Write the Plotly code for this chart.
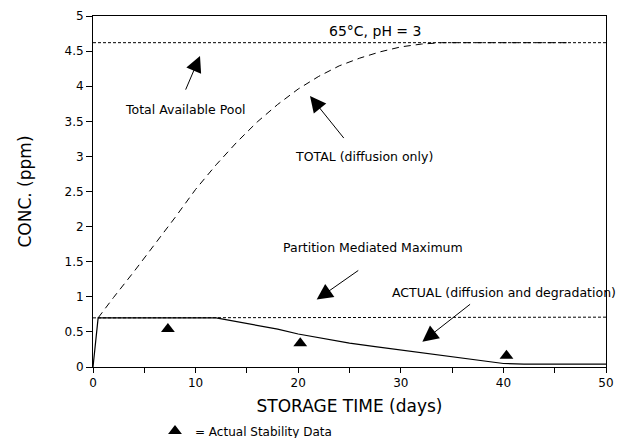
import plotly.graph_objects as go

# ---- data ----
total_days = [0.5, 1, 2, 4, 6, 8, 10, 12, 14, 16, 18, 20, 22, 24, 26, 28, 30, 32, 34, 46.5]
total_conc = [0.70, 0.80, 0.99, 1.36, 1.74, 2.13, 2.53, 2.88, 3.20, 3.49, 3.74, 3.96, 4.14, 4.29, 4.40, 4.49, 4.56, 4.60, 4.62, 4.62]

actual_days = [0, 0.5, 12, 15, 18, 20, 22.5, 25, 27.5, 30, 32.5, 35, 37, 38.5, 40, 42, 50]
actual_conc = [0, 0.70, 0.70, 0.62, 0.54, 0.47, 0.40, 0.34, 0.29, 0.24, 0.20, 0.15, 0.10, 0.07, 0.05, 0.04, 0.04]

pool_days = [0, 50]
pool_conc = [4.62, 4.62]

partition_days = [0, 50]
partition_conc = [0.70, 0.71]

stab_days = [7.3, 20.2, 40.3]
stab_conc = [0.54, 0.34, 0.16]

x_ticks = [0, 10, 20, 30, 40, 50]
y_ticks = [0, 0.5, 1, 1.5, 2, 2.5, 3, 3.5, 4, 4.5, 5]
y_labels = ["0", "0.5", "1", "1.5", "2", "2.5", "3", "3.5", "4", "4.5", "5"]

FONT = "DejaVu Sans"

fig = go.Figure()
fig.add_trace(go.Scatter(x=pool_days, y=pool_conc, mode="lines",
                         line=dict(color="black", width=1, dash="3px,2px"), showlegend=False))
fig.add_trace(go.Scatter(x=partition_days, y=partition_conc, mode="lines",
                         line=dict(color="black", width=1, dash="3px,2px"), showlegend=False))
fig.add_trace(go.Scatter(x=total_days, y=total_conc, mode="lines",
                         line=dict(color="black", width=1, dash="7px,5px"), showlegend=False))
fig.add_trace(go.Scatter(x=actual_days, y=actual_conc, mode="lines",
                         line=dict(color="black", width=1.2), showlegend=False))
fig.add_trace(go.Scatter(x=stab_days, y=stab_conc, mode="markers",
                         marker=dict(symbol="triangle-up", size=12, color="black"),
                         name="= Actual Stability Data", showlegend=True))

txt = dict(family=FONT, size=12.5, color="black")
ann = []
ann.append(dict(x=27.5, y=4.79, text="65°C, pH = 3", showarrow=False, font=dict(family=FONT, size=14, color="black")))
ann.append(dict(x=8.97, y=3.67, text="Total Available Pool", showarrow=False, font=txt))
ann.append(dict(x=19.5, y=3.0, text="TOTAL (diffusion only)", showarrow=False, xanchor="left", font=txt))
ann.append(dict(x=27.3, y=1.70, text="Partition Mediated Maximum", showarrow=False, font=txt))
ann.append(dict(x=28.9, y=1.06, text="ACTUAL (diffusion and degradation)", showarrow=False, xanchor="left", font=txt))

arrows = [((8.97, 3.93), (10.43, 4.43)),
          ((24.56, 3.24), (21.15, 3.86)),
          ((26.0, 1.39), (21.8, 0.96)),
          ((36.9, 0.91), (32.1, 0.36))]
for (tx, ty), (hx, hy) in arrows:
    ann.append(dict(x=hx, y=hy, ax=tx, ay=ty, axref="x", ayref="y", xref="x", yref="y",
                    text="", showarrow=True, arrowhead=2, arrowsize=3.2, arrowwidth=1,
                    arrowcolor="black", standoff=0, startstandoff=0))

fig.update_layout(
    width=620, height=438,
    margin=dict(l=93, r=14, t=16, b=71, autoexpand=False),
    paper_bgcolor="white", plot_bgcolor="white",
    font=dict(family=FONT, size=12, color="black"),
    annotations=ann,
    legend=dict(xref="container", yref="container", x=0.25, y=0.016,
                xanchor="left", yanchor="middle", orientation="h",
                font=dict(family=FONT, size=12, color="black"), bgcolor="rgba(0,0,0,0)"),
    xaxis=dict(range=[0, 50], tickvals=x_ticks, ticktext=[str(v) for v in x_ticks],
               ticks="outside", ticklen=5, tickcolor="black", showline=True, linecolor="black",
               linewidth=1, mirror=True, showgrid=False, zeroline=False, automargin=False,
               minor=dict(dtick=5, ticks="outside", ticklen=5, tickcolor="black"),
               title=dict(text="STORAGE TIME (days)", font=dict(family=FONT, size=17), standoff=13),
               tickfont=dict(family=FONT, size=12)),
    yaxis=dict(range=[0, 5], tickvals=y_ticks, ticktext=y_labels,
               ticks="outside", ticklen=6, tickcolor="black", showline=True, linecolor="black",
               linewidth=1, mirror=True, showgrid=False, zeroline=False, automargin=False,
               title=dict(text="CONC. (ppm)", font=dict(family=FONT, size=17), standoff=28),
               tickfont=dict(family=FONT, size=12)),
)

fig.write_html("out.html")
